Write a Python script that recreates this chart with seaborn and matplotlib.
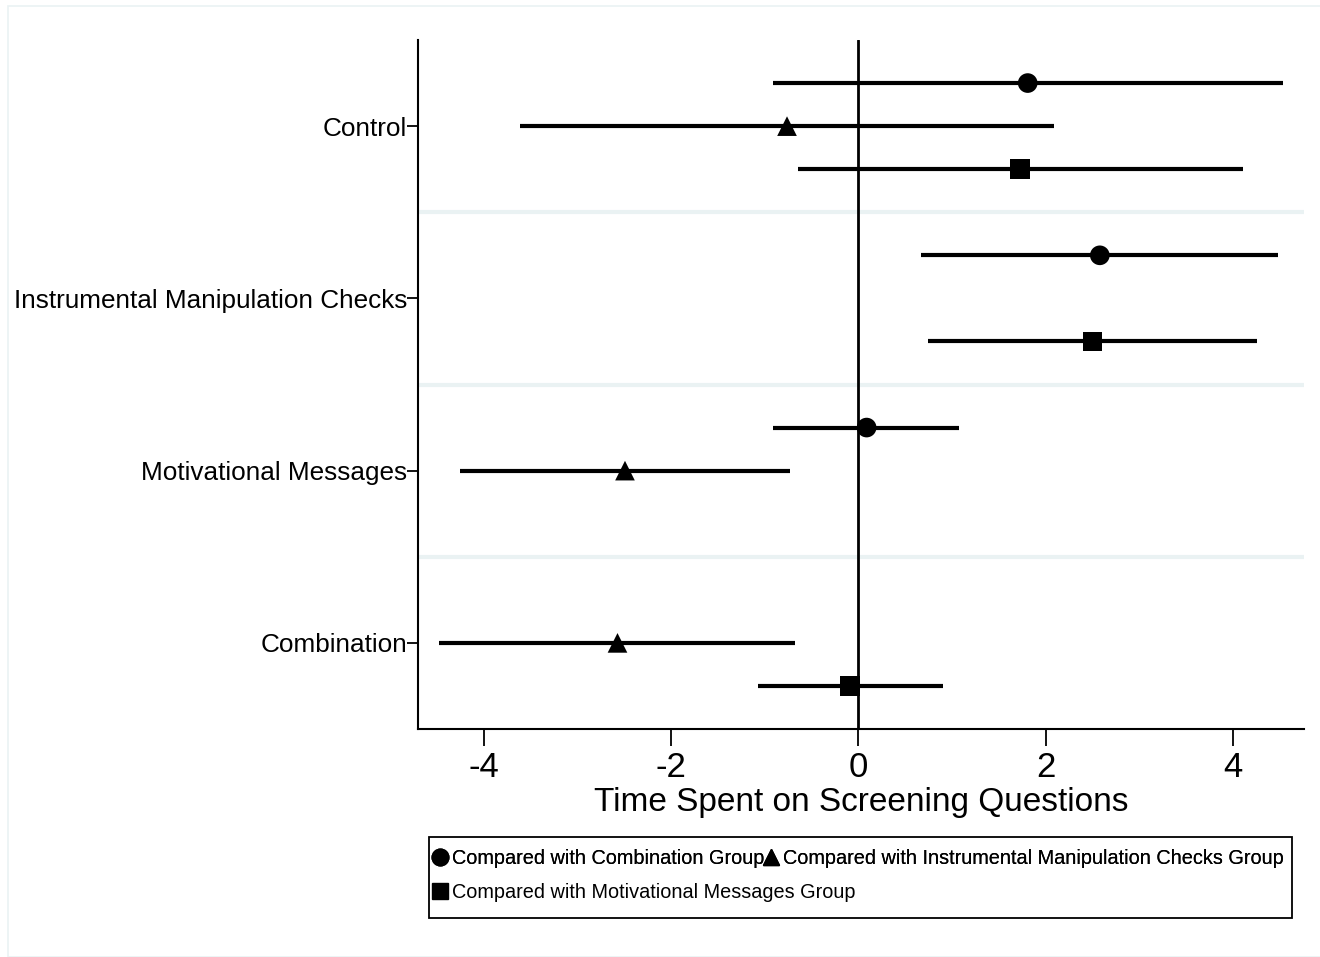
import matplotlib
matplotlib.use("Agg")
import matplotlib.pyplot as plt
import matplotlib.patches as mpatches
from matplotlib.lines import Line2D
import numpy as np
import pandas as pd
import seaborn as sns

# groups shown on the y axis, top to bottom
groups = ["Control", "Instrumental Manipulation Checks", "Motivational Messages", "Combination"]
comparisons = [
    "Compared with Combination Group",
    "Compared with Instrumental Manipulation Checks Group",
    "Compared with Motivational Messages Group",
]

# estimates and 95% CI (NaN = not shown)
est_comb = [1.81, 2.58, 0.09, np.nan]
lo_comb = [-0.91, 0.67, -0.91, np.nan]
hi_comb = [4.54, 4.48, 1.08, np.nan]

est_imc = [-0.76, np.nan, -2.49, -2.57]
lo_imc = [-3.61, np.nan, -4.25, -4.48]
hi_imc = [2.09, np.nan, -0.73, -0.67]

est_mot = [1.73, 2.50, np.nan, -0.09]
lo_mot = [-0.64, 0.75, np.nan, -1.07]
hi_mot = [4.11, 4.26, np.nan, 0.91]

rows = []
for c, (e, l, h) in enumerate([(est_comb, lo_comb, hi_comb),
                               (est_imc, lo_imc, hi_imc),
                               (est_mot, lo_mot, hi_mot)]):
    for g in range(len(groups)):
        rows.append(dict(group=groups[g], comparison=comparisons[c],
                         pos=4 * g + c, est=e[g], lo=l[g], hi=h[g]))
df = pd.DataFrame(rows).dropna()

sns.set_style("white")
plt.rcParams["font.family"] = ["Liberation Sans", "DejaVu Sans"]
plt.rcParams["axes.unicode_minus"] = False
for k in ["text.color", "axes.labelcolor", "xtick.color", "ytick.color"]:
    plt.rcParams[k] = "black"

fig = plt.figure(figsize=(13.2, 9.57), dpi=100)
ax = fig.add_axes([418 / 1320, 1 - 729 / 957, (1304 - 418) / 1320, (729 - 40) / 957])

# faint outer frame of the graph region
fig.patches.append(mpatches.Rectangle((8 / 1320, 0), 1.0, 1 - 6 / 957,
                                      transform=fig.transFigure, fill=False,
                                      edgecolor="#eaf2f3", lw=1.2))

# separators between groups
for g in range(1, len(groups)):
    ax.axhline(4 * g - 1, color="#eaf2f3", lw=3, zorder=1)

ax.axvline(0, color="black", lw=2, zorder=2)
ax.hlines(df["pos"], df["lo"], df["hi"], color="black", lw=3, zorder=3)

markers = {comparisons[0]: "o", comparisons[1]: "^", comparisons[2]: "s"}
sns.scatterplot(data=df, x="est", y="pos", style="comparison", markers=markers,
                style_order=comparisons, color="black", s=200, edgecolor="black",
                linewidth=0, zorder=4, legend=False, ax=ax)

ax.set_xlim(-4.7, 4.76)
ax.set_ylim(15, -1)
ax.set_xticks([-4, -2, 0, 2, 4])
ax.set_yticks([4 * g + 1 for g in range(len(groups))])
ax.set_yticklabels(groups, fontsize=18.85)
ax.tick_params(axis="x", bottom=True, labelsize=25, length=12, width=1.3,
               direction="out", pad=4)
ax.tick_params(axis="y", left=True, length=8, width=1.3, direction="out", pad=0)
ax.set_xlabel("Time Spent on Screening Questions", fontsize=24, labelpad=2)
ax.set_ylabel("")

for side in ["top", "right"]:
    ax.spines[side].set_visible(False)
for side in ["left", "bottom"]:
    ax.spines[side].set_linewidth(1.5)
    ax.spines[side].set_color("black")

# legend: Stata-style flowing rows inside one box
handles = [Line2D([], [], ls="", marker=markers[c], color="black", markersize=12)
           for c in comparisons]
box_l, box_r, box_t, box_b = 429 / 1320, 1292 / 1320, 1 - 837 / 957, 1 - 918 / 957
fig.patches.append(mpatches.Rectangle((box_l, box_b), box_r - box_l, box_t - box_b,
                                      transform=fig.transFigure, fill=False,
                                      edgecolor="black", lw=1.3))
common = dict(loc="upper left", fontsize=14.3, frameon=False, handlelength=0.7,
              handletextpad=0.25, columnspacing=0.0, borderpad=0, borderaxespad=0)
leg1 = fig.legend(handles[:2], comparisons[:2], ncol=2,
                  bbox_to_anchor=(433 / 1320, 1 - 849 / 957), **common)
fig.add_artist(leg1)
fig.legend(handles[2:], comparisons[2:], ncol=1,
           bbox_to_anchor=(433 / 1320, 1 - 883 / 957), **common)

fig.savefig("out.png", dpi=100, facecolor="white")
